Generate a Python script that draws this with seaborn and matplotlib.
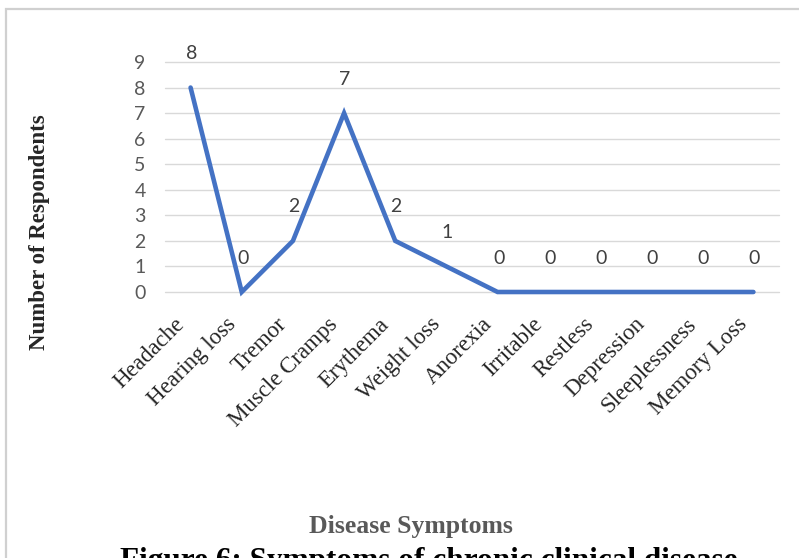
import matplotlib
matplotlib.use("Agg")
import matplotlib.pyplot as plt
import matplotlib.transforms as mtransforms
from matplotlib.patches import Rectangle
import numpy as np
import pandas as pd
import seaborn as sns

# Reported symptoms and number of respondents for each
symptoms = ["Headache", "Hearing loss", "Tremor", "Muscle Cramps", "Erythema",
            "Weight loss", "Anorexia", "Irritable", "Restless", "Depression",
            "Sleeplessness", "Memory Loss"]
respondents = [8, 0, 2, 7, 2, 1, 0, 0, 0, 0, 0, 0]
y_ticks = list(range(0, 10))

df = pd.DataFrame({"pos": np.arange(len(symptoms)), "symptom": symptoms,
                   "count": respondents})

sns.set_theme(style="white")
plt.rcParams["font.family"] = ["Lato", "DejaVu Sans"]

W, H = 799, 558
fig = plt.figure(figsize=(W / 100, H / 100), dpi=100)
fig.patch.set_facecolor("white")

# chart frame
fig.patches.append(Rectangle((6 / W, -0.2), 2.0, 1.2 - 9 / H,
                             transform=fig.transFigure, fill=False,
                             edgecolor="#d0d0d0", linewidth=1.6))

left, right = 165 / W, 779 / W
bottom, top = 1 - 292 / H, 1 - 62 / H
ax = fig.add_axes([left, bottom, right - left, top - bottom])
ax.set_facecolor("none")

for v in y_ticks:
    ax.axhline(v, color="#d9d9d9", linewidth=1.0, zorder=0)

sns.lineplot(data=df, x="pos", y="count", ax=ax, color="#4472C4",
             linewidth=3.3, solid_joinstyle="miter", zorder=3)
for line in ax.lines:
    line.set_clip_on(False)

for x, y in zip(df["pos"], df["count"]):
    ax.annotate(str(y), (x, y), xytext=(1, 34), textcoords="offset pixels",
                ha="center", va="center", fontsize=14, color="#404040",
                family=["Lato", "DejaVu Sans"])

ax.set_xlim(-0.5, len(symptoms) - 0.5)
ax.set_ylim(0, 9)
ax.set_yticks(y_ticks)
ax.set_yticklabels([str(t) for t in y_ticks], fontsize=14, color="#595959",
                   family=["Lato", "DejaVu Sans"])
ax.set_xticks(df["pos"])
ax.set_xticklabels(symptoms, rotation=45, ha="right", va="center",
                   rotation_mode="anchor", fontsize=16.5, color="#262626",
                   family="Liberation Serif")
ax.tick_params(axis="y", length=0, pad=14)
ax.tick_params(axis="x", length=0, pad=21)
shift = mtransforms.ScaledTranslation(-9 / 100, 0, fig.dpi_scale_trans)
for lbl in ax.get_xticklabels():
    lbl.set_transform(lbl.get_transform() + shift)
for s in ax.spines.values():
    s.set_visible(False)
ax.set_xlabel("")
ax.set_ylabel("")

fig.text(40 / W, 1 - 232 / H, "Number of Respondents", rotation=90,
         ha="center", va="center", fontsize=16.5, fontweight="bold",
         family="Liberation Serif", color="#262626")
fig.text(411 / W, 1 - 527 / H, "Disease Symptoms", ha="center", va="center",
         fontsize=18.5, fontweight="bold", family="Liberation Serif",
         color="#595959")
fig.text(120 / W, 1 - 569 / H, "Figure 6: Symptoms of chronic clinical disease",
         ha="left", va="baseline", fontsize=22.5, fontweight="bold",
         family="Liberation Serif", color="black")

fig.savefig("out.png", dpi=100)
